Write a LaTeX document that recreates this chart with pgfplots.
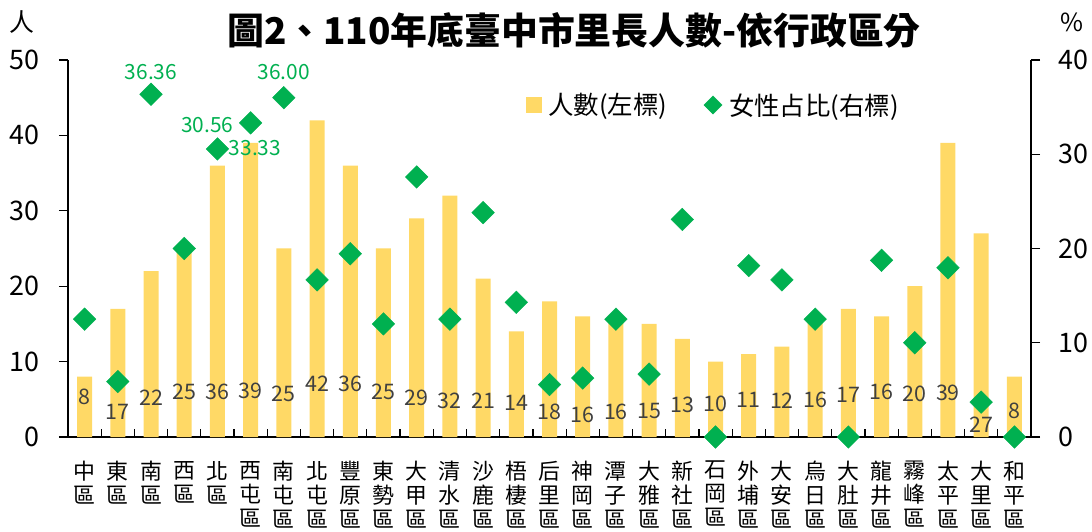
\documentclass[border=0pt]{standalone}
\usepackage{pgfplots}
\pgfplotsset{compat=1.18}
\usepackage{pgfplotstable}
\usepackage{fontspec}
\setmainfont{Noto Sans CJK TC}
\definecolor{barc}{HTML}{FFD966}
\definecolor{grn}{HTML}{00B050}
\definecolor{lab}{HTML}{404040}

\pgfplotstableread{
x n ly
0 8 5.35
1 17 3.36
2 22 5.26
3 25 5.93
4 36 6.0
5 39 6.14
6 25 5.66
7 42 7.03
8 36 6.99
9 25 5.93
10 29 5.13
11 32 4.81
12 21 4.81
13 14 4.55
14 18 3.4
15 16 2.97
16 16 3.3
17 15 3.45
18 13 4.24
19 10 4.38
20 11 4.99
21 12 4.75
22 16 4.93
23 17 5.64
24 16 6.0
25 20 5.77
26 39 5.87
27 27 1.6
28 8 3.45
}\bars

\pgfplotstableread{
x p
0 12.50
1 5.88
2 36.36
3 20.00
4 30.56
5 33.33
6 36.00
7 16.67
8 19.44
9 12.00
10 27.59
11 12.50
12 23.81
13 14.29
14 5.56
15 6.25
16 12.50
17 6.67
18 23.08
19 0
20 18.18
21 16.67
22 12.50
23 0
24 18.75
25 10.00
26 17.95
27 3.70
28 0
}\pct

\pgfplotsset{base/.style={
  scale only axis, width=963bp, height=377bp,
  at={(68bp,95bp)}, anchor=south west,
  xmin=-0.5, xmax=28.5, clip=false,
  tick align=outside, major tick length=9bp,
  tick style={black, line width=1.2bp},
  axis line style={black, line width=1.5bp},
  /pgf/number format/assume math mode=true,
  yticklabel style={font=\fontsize{27}{27}\selectfont, inner sep=0pt},
}}

\begin{document}
\begin{tikzpicture}
\path[use as bounding box] (0,0) rectangle (1092bp,532bp);

\begin{axis}[base,
  ymin=0, ymax=50, ytick={0,10,...,50},
  axis y line*=left, axis x line*=bottom,
  yticklabel style={xshift=-19bp},
  xtick={0,...,28},
  xticklabels={{中\\區},{東\\區},{南\\區},{西\\區},{北\\區},{西\\屯\\區},{南\\屯\\區},{北\\屯\\區},{豐\\原\\區},{東\\勢\\區},{大\\甲\\區},{清\\水\\區},{沙\\鹿\\區},{梧\\棲\\區},{后\\里\\區},{神\\岡\\區},{潭\\子\\區},{大\\雅\\區},{新\\社\\區},{石\\岡\\區},{外\\埔\\區},{大\\安\\區},{烏\\日\\區},{大\\肚\\區},{龍\\井\\區},{霧\\峰\\區},{太\\平\\區},{大\\里\\區},{和\\平\\區}},
  xticklabel style={align=center, font=\fontsize{22}{24}\selectfont, inner sep=0pt, anchor=north, yshift=-15bp},
  major x tick style={draw=none},
  minor xtick={0.5,1.5,...,27.5},
  minor tick length=8bp,
  minor x tick style={yshift=8bp, black, line width=1.2bp},
]
\addplot[ybar, bar width=15bp, bar shift=0pt, fill=barc, draw=none] table[x=x,y=n]{\bars};
\addplot[draw=none, mark=none, nodes near coords, point meta=explicit,
  nodes near coords style={anchor=center, text=lab, font=\fontsize{21.5}{21.5}\selectfont}]
  table[x=x, y=ly, meta=n]{\bars};
\end{axis}

\begin{axis}[base,
  ymin=0, ymax=40, ytick={0,10,...,40},
  axis y line*=right, axis x line=none,
  yticklabel style={xshift=18bp},
  legend style={at={(0.4725,0.8806)}, anchor=west, draw=none, fill=none,
    font=\fontsize{25.5}{25.5}\selectfont, legend columns=2,
    /tikz/every even column/.append style={column sep=35bp}},
  legend cell align=left,
]
\addlegendimage{only marks, mark=square*, mark size=7.5bp, mark options={fill=barc, draw=barc}}
\addlegendentry{\hspace{5bp}人數(左標)}
\addlegendimage{only marks, mark=square*, mark size=6.4bp, mark options={rotate=45, fill=grn, draw=grn}}
\addlegendentry{\hspace{5bp}女性占比(右標)}
\addplot[only marks, mark=square*, mark size=8bp, mark options={rotate=45, fill=grn, draw=grn}, forget plot] table[x=x,y=p]{\pct};
\node[text=grn, font=\fontsize{21}{21}\selectfont] at (axis cs:2,38.7) {36.36};
\node[text=grn, font=\fontsize{21}{21}\selectfont] at (axis cs:6,38.7) {36.00};
\node[text=grn, font=\fontsize{21}{21}\selectfont] at (axis cs:3.69,33.1) {30.56};
\node[text=grn, font=\fontsize{21}{21}\selectfont] at (axis cs:5.13,30.66) {33.33};
\end{axis}

\node[font=\bfseries\fontsize{37}{37}\selectfont] at (574bp,502bp) {圖2、110年底臺中市里長人數-依行政區分};
\node[font=\fontsize{25}{25}\selectfont] at (22bp,510bp) {人};
\node[font=\fontsize{25}{25}\selectfont] at (1072bp,510bp) {\%};
\end{tikzpicture}
\end{document}
